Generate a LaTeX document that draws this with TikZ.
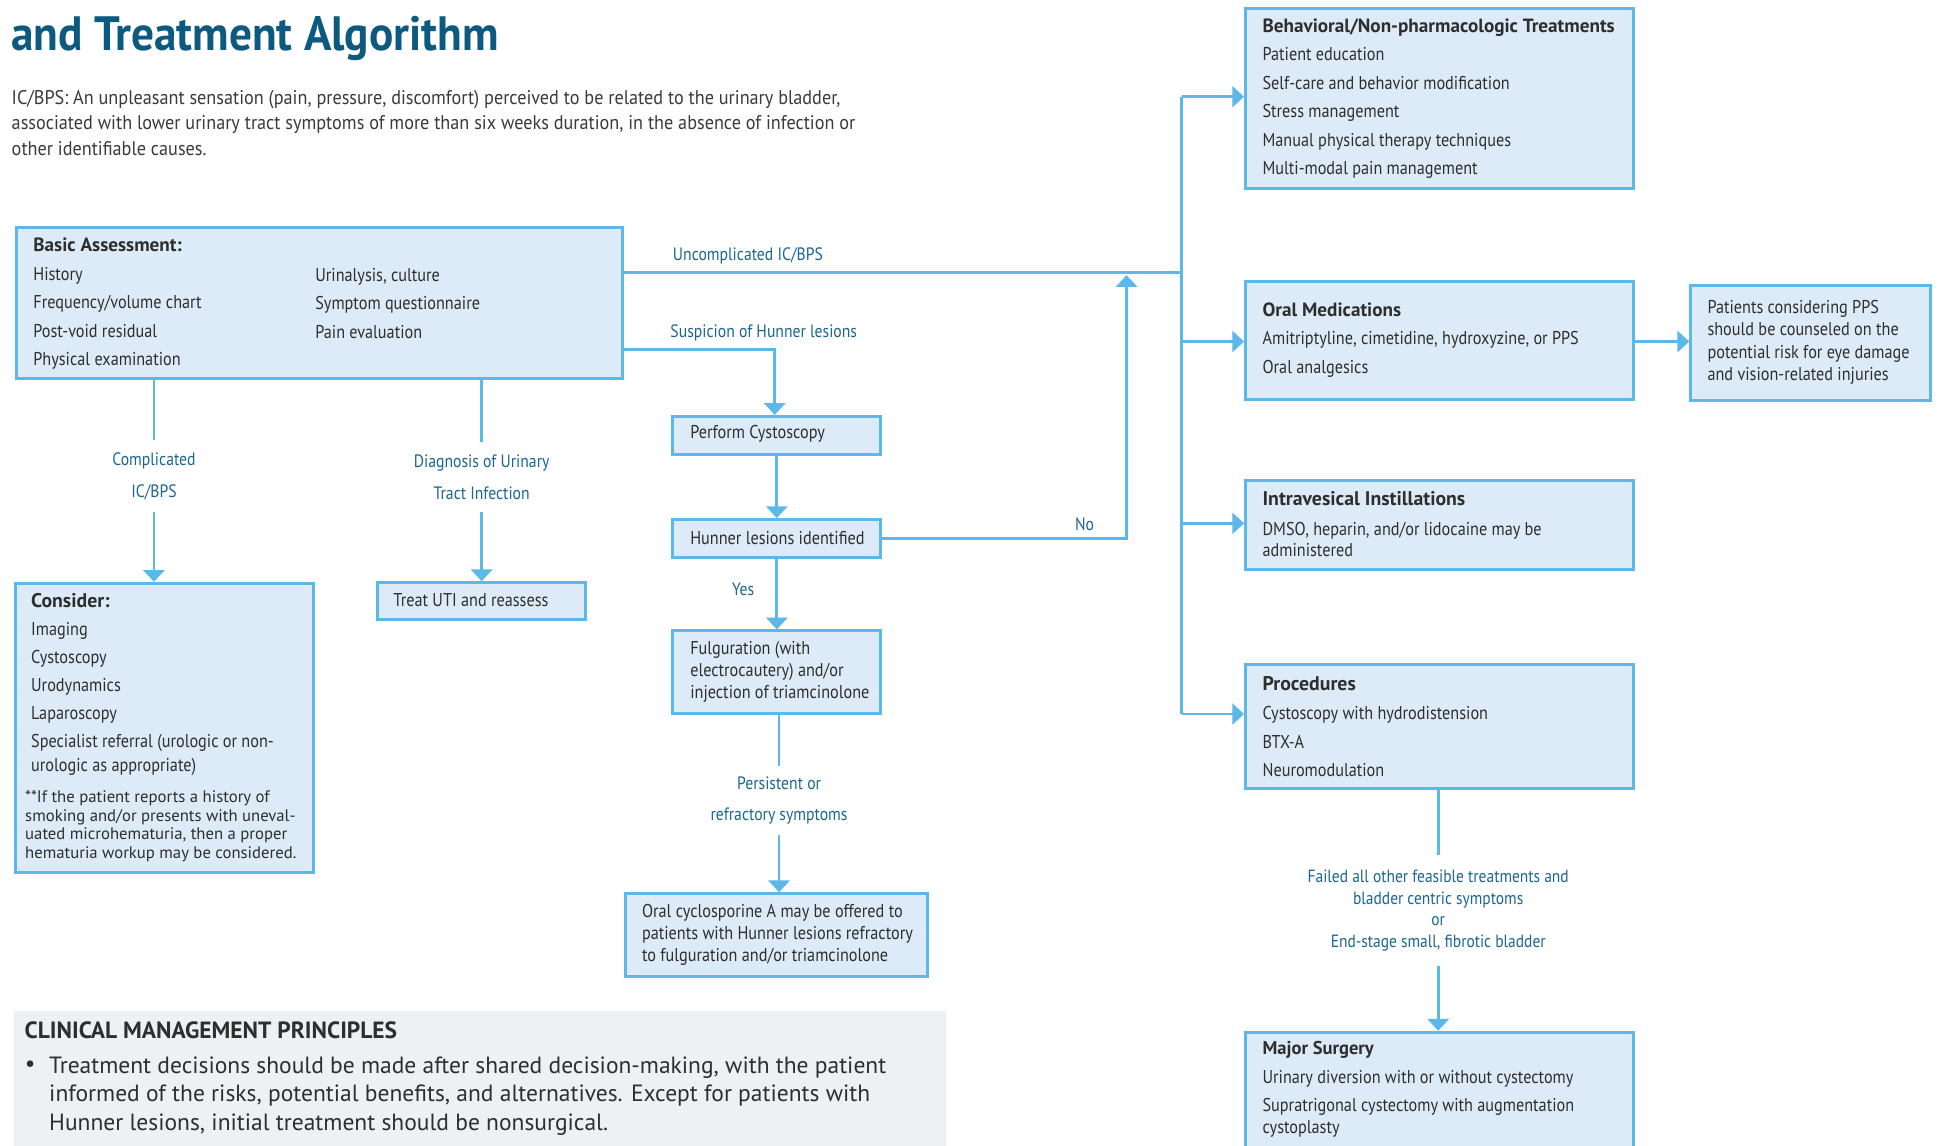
\documentclass[tikz,border=0pt]{standalone}
\usepackage{fontspec}
\usetikzlibrary{arrows.meta}
\newfontfamily\cf[FakeStretch=0.875]{PT Sans}
\newfontfamily\rf[FakeStretch=0.92]{PT Sans}
\newfontfamily\hf{PT Sans}
\newfontfamily\tf[FakeStretch=0.94]{PT Sans}
\definecolor{lblue}{HTML}{5BB8E8}
\definecolor{boxfill}{HTML}{DDEBF8}
\definecolor{labc}{HTML}{1B6690}
\definecolor{titlec}{HTML}{0D5A80}
\definecolor{txtc}{HTML}{2E2E2E}
\definecolor{descc}{HTML}{3A3A3A}
\definecolor{grayfill}{HTML}{EEF0F2}
\tikzset{
  box/.style={draw=lblue, line width=2.4pt, fill=boxfill, anchor=north west, inner sep=0pt},
  conn/.style={draw=lblue, line width=2.3pt},
  arr/.style={conn, -{Triangle[width=17pt,length=9.5pt]}},
  body/.style={anchor=west, inner sep=0pt, align=left, text=txtc, font=\cf\fontsize{15}{23}\selectfont},
  lab/.style={inner xsep=0pt, align=center, text=labc, font=\cf\fontsize{14.5}{26}\selectfont},
}
\begin{document}
\begin{tikzpicture}[x=1pt,y=-1pt]
\clip (0,0) rectangle (1568,926);
\fill[white] (0,0) rectangle (1568,926);

% title and description
\node[anchor=base west, inner sep=0pt, text=titlec, font=\tf\bfseries\fontsize{39}{44}\selectfont] (title) at (9,41) {and Treatment Algorithm};
\node[body, text=descc, font=\rf\fontsize{16}{21}\selectfont] (desc) at (9.3,99.5) {IC/BPS: An unpleasant sensation (pain, pressure, discomfort) perceived to be related to the urinary bladder,\\associated with lower urinary tract symptoms of more than six weeks duration, in the absence of infection or\\other identifiable causes.};

% boxes
\node[box, minimum width=490pt, minimum height=122pt] (ba) at (12,183) {};
\node[box, minimum width=241pt, minimum height=234pt] (co) at (11,470.5) {};
\node[box, minimum width=168pt, minimum height=30pt] (uti) at (304,470) {};
\node[box, minimum width=168pt, minimum height=31pt] (pc) at (543,335.5) {};
\node[box, minimum width=168pt, minimum height=31pt] (hl) at (543,419) {};
\node[box, minimum width=168pt, minimum height=67pt] (fg) at (543,509) {};
\node[box, minimum width=244pt, minimum height=67pt] (cy) at (504.5,721.5) {};
\node[box, minimum width=314pt, minimum height=146pt] (beh) at (1006,5.5) {};
\node[box, minimum width=314pt, minimum height=95pt] (om) at (1006,226.5) {};
\node[box, minimum width=194pt, minimum height=93pt] (pps) at (1366,229.5) {};
\node[box, minimum width=314pt, minimum height=72pt] (iv) at (1006,387) {};
\node[box, minimum width=314pt, minimum height=100pt] (pr) at (1006,536.5) {};
\node[box, minimum width=314pt, minimum height=130pt] (ms) at (1006,833.5) {};
\node[fill=grayfill, anchor=north west, inner sep=0pt, minimum width=754pt, minimum height=130pt] (cmbox) at (11,817) {};

% box texts
\node[body] (ba1) at (26.8,245.6) {{\hf\bfseries\fontsize{15.5}{23}\selectfont Basic Assessment:}\\History\\Frequency/volume chart\\Post-void residual\\Physical examination};
\node[body] (ba2) at (254.8,245.3) {Urinalysis, culture\\Symptom questionnaire\\Pain evaluation};
\node[body, font=\cf\fontsize{15}{22.7}\selectfont] (co1) at (25,553.6) {{\hf\bfseries\fontsize{16}{22.7}\selectfont Consider:}\\Imaging\\Cystoscopy\\Urodynamics\\Laparoscopy\\Specialist referral (urologic or non-\\[-3.5pt]urologic as appropriate)};
\node[body, font=\hf\fontsize{13.5}{15.1}\selectfont] (co2) at (20.2,668.2) {**If the patient reports a history of\\smoking and/or presents with uneval-\\uated microhematuria, then a proper\\hematuria workup may be considered.};
\node[body] (uti1) at (318,485) {Treat UTI and reassess};
\node[body] (pc1) at (558,351) {Perform Cystoscopy};
\node[body] (hl1) at (558,435) {Hunner lesions identified};
\node[body, font=\cf\fontsize{15}{17.8}\selectfont] (fg1) at (558,543.6) {Fulguration (with\\electrocautery) and/or\\injection of triamcinolone};
\node[body, font=\cf\fontsize{15}{17.9}\selectfont] (cy1) at (519,755.8) {Oral cyclosporine A may be offered to\\patients with Hunner lesions refractory\\to fulguration and/or triamcinolone};
\node[body] (beh1) at (1020.8,79.8) {{\hf\bfseries\fontsize{15.5}{23}\selectfont Behavioral/Non-pharmacologic Treatments}\\Patient education\\Self-care and behavior modification\\Stress management\\Manual physical therapy techniques\\Multi-modal pain management};
\node[body] (om1) at (1020.8,275) {{\hf\bfseries\fontsize{15.5}{23}\selectfont Oral Medications}\\Amitriptyline, cimetidine, hydroxyzine, or PPS\\Oral analgesics};
\node[body, font=\cf\fontsize{15}{18.2}\selectfont] (pps1) at (1380.6,276.7) {Patients considering PPS\\should be counseled on the\\potential risk for eye damage\\and vision-related injuries};
\node[body, font=\cf\fontsize{15}{17.6}\selectfont] (iv1) at (1020.8,423.9) {{\hf\bfseries\fontsize{16}{17.6}\selectfont Intravesical Instillations}\\[6.6pt]DMSO, heparin, and/or lidocaine may be\\administered};
\node[body, font=\cf\fontsize{15}{23.4}\selectfont] (pr1) at (1020.8,587.6) {{\hf\bfseries\fontsize{16}{23.4}\selectfont Procedures}\\Cystoscopy with hydrodistension\\BTX-A\\Neuromodulation};
\node[body] (ms1) at (1020.8,880.7) {{\hf\bfseries\fontsize{15}{23}\selectfont Major Surgery}\\Urinary diversion with or without cystectomy\\Supratrigonal cystectomy with augmentation\\[-5.6pt]cystoplasty};
\node[body, font=\hf\bfseries\fontsize{19}{21}\selectfont] (cm1) at (19.8,833.5) {CLINICAL MANAGEMENT PRINCIPLES};
\node[body, font=\hf\fontsize{19}{23.4}\selectfont] (cm2) at (39.6,886.4) {Treatment decisions should be made after shared decision-making, with the patient\\informed of the risks, potential benefits, and alternatives. Except for patients with\\Hunner lesions, initial treatment should be nonsurgical.};
\node[anchor=center, inner sep=0pt, text=txtc, font=\hf\fontsize{19}{23}\selectfont] (bul) at (24.5,862) {\textbullet};

% labels
\node[lab, anchor=west, inner sep=0pt] (unc) at (544,207) {Uncomplicated IC/BPS};
\node[lab, anchor=west, inner sep=0pt] (sus) at (542,269.6) {Suspicion of Hunner lesions};
\node[lab, inner sep=0pt] (no) at (877,424) {No};
\node[lab, inner sep=0pt] (yes) at (601,476.6) {Yes};
\node[lab, inner ysep=10pt] (cl) at (124.5,385) {Complicated\\IC/BPS};
\node[lab, inner ysep=10pt] (ul) at (389.5,386) {Diagnosis of Urinary\\Tract Infection};
\node[lab, inner ysep=8pt, font=\cf\fontsize{14.5}{25.5}\selectfont] (pl) at (630,647.3) {Persistent or\\refractory symptoms};
\node[lab, inner ysep=12pt, font=\cf\fontsize{14.3}{17.3}\selectfont] (fl) at (1163,736.3) {Failed all other feasible treatments and\\bladder centric symptoms\\or\\End-stage small, fibrotic bladder};

% connectors
\coordinate (tA) at (955.6,78.2);
\coordinate (j1) at (955.6,220.2);
\coordinate (tB) at (955.6,276.2);
\coordinate (tC) at (955.6,423.2);
\coordinate (tD) at (955.6,577.4);
\coordinate (s1) at (626.5,282.5);
\coordinate (n1) at (911,222.5);
\draw[conn] (tA) -- (tD);
\draw[conn] (ba.east |- j1) -- (j1);
\draw[arr] (tA) -- (tA -| beh.west);
\draw[arr] (tB) -- (tB -| om.west);
\draw[arr] (tC) -- (tC -| iv.west);
\draw[arr] (tD) -- (tD -| pr.west);
\draw[arr] (om.east |- tB) -- (tB -| pps.west);
\draw[arr] (ba.east |- s1) -- (s1) -- (s1 |- pc.north);
\draw[arr] (pc.south) -- (hl.north);
\draw[arr] (hl.east) -- (hl.east -| n1) -- (n1);
\draw[arr] (hl.south) -- (fg.north);
\draw[conn] (fg.south -| pl.north) -- (pl.north);
\draw[arr] (pl.south) -- (pl.south |- cy.north);
\draw[conn] (ba.south -| cl.north) -- (cl.north);
\draw[arr] (cl.south) -- (cl.south |- co.north);
\draw[conn] (ba.south -| ul.north) -- (ul.north);
\draw[arr] (ul.south) -- (ul.south |- uti.north);
\draw[conn] (pr.south -| fl.north) -- (fl.north);
\draw[arr] (fl.south) -- (fl.south |- ms.north);
\end{tikzpicture}
\end{document}
